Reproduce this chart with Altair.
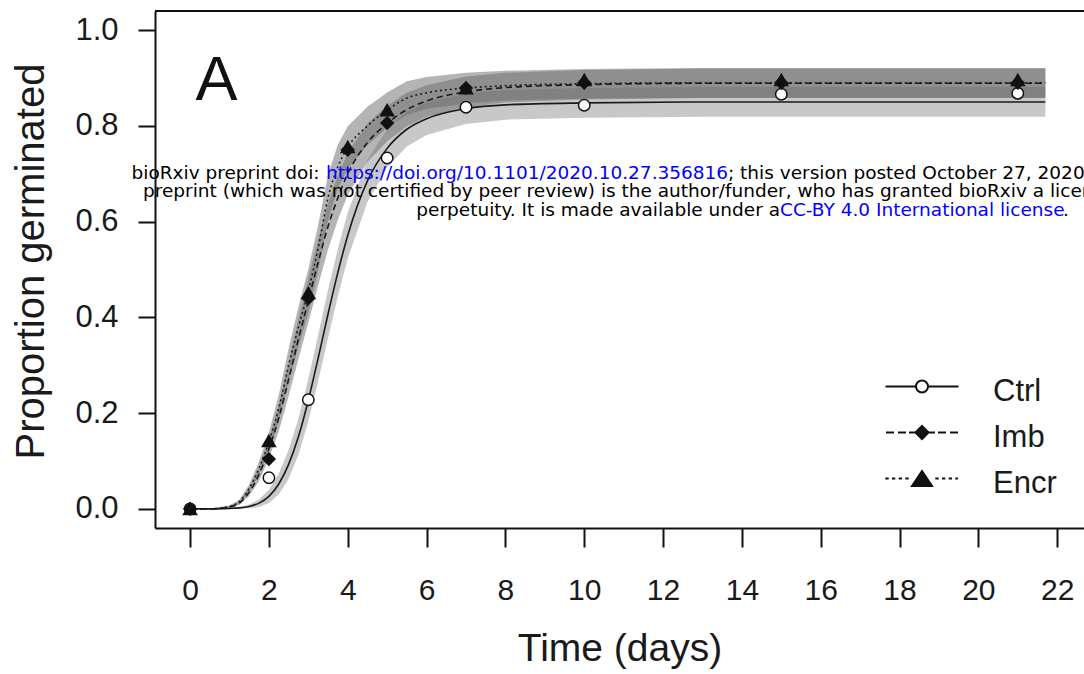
import altair as alt
import pandas as pd

# ---------------- data ----------------
series_names = ["Ctrl", "Imb", "Encr"]

# observed proportions
obs_days_ctrl = [0, 2, 3, 5, 7, 10, 15, 21]
obs_ctrl = [0.0, 0.065, 0.228, 0.733, 0.839, 0.843, 0.866, 0.868]
obs_days_trt = [0, 2, 3, 4, 5, 7, 10, 15, 21]
obs_imb = [0.0, 0.104, 0.44, 0.75, 0.806, 0.879, 0.89, 0.89, 0.89]
obs_encr = [0.0, 0.142, 0.451, 0.756, 0.833, 0.879, 0.896, 0.896, 0.896]

# fitted curves
curve_days = [0, 0.5, 1, 1.25, 1.5, 1.75, 2, 2.25, 2.5, 2.75, 3, 3.25, 3.5,
              3.75, 4, 4.5, 5, 5.5, 6, 7, 8, 10, 13, 17, 21.7]
fit_ctrl = [0, 0, 0.001, 0.002, 0.005, 0.012, 0.026, 0.052, 0.093, 0.151, 0.227,
            0.315, 0.407, 0.494, 0.571, 0.685, 0.753, 0.793, 0.815, 0.836, 0.844,
            0.848, 0.85, 0.85, 0.85]
fit_imb = [0, 0, 0.004, 0.012, 0.035, 0.072, 0.125, 0.19, 0.27, 0.355, 0.435,
           0.515, 0.59, 0.65, 0.70, 0.765, 0.805, 0.834, 0.852, 0.871, 0.88,
           0.886, 0.889, 0.889, 0.889]
fit_encr = [0, 0, 0.005, 0.015, 0.043, 0.085, 0.14, 0.21, 0.30, 0.38, 0.455,
            0.545, 0.65, 0.715, 0.755, 0.80, 0.833, 0.858, 0.869, 0.879, 0.884,
            0.888, 0.89, 0.89, 0.89]
# half-widths of the grey confidence bands
ci_ctrl = [0, 0, 0.001, 0.002, 0.004, 0.008, 0.014, 0.022, 0.03, 0.038, 0.044,
           0.048, 0.05, 0.05, 0.048, 0.044, 0.04, 0.036, 0.034, 0.032, 0.031,
           0.031, 0.031, 0.031, 0.031]
ci_imb = [0, 0, 0.002, 0.004, 0.008, 0.014, 0.02, 0.028, 0.035, 0.042, 0.046,
          0.048, 0.048, 0.046, 0.044, 0.04, 0.037, 0.035, 0.033, 0.032, 0.031,
          0.031, 0.031, 0.031, 0.031]
ci_encr = [0, 0, 0.002, 0.004, 0.008, 0.014, 0.02, 0.028, 0.035, 0.042, 0.046,
           0.048, 0.048, 0.046, 0.044, 0.04, 0.037, 0.035, 0.033, 0.032, 0.031,
           0.031, 0.031, 0.031, 0.031]

x_ticks = [0, 2, 4, 6, 8, 10, 12, 14, 16, 18, 20, 22]
y_ticks = [0.0, 0.2, 0.4, 0.6, 0.8, 1.0]

# ---------------- tables ----------------
fits = {"Ctrl": (fit_ctrl, ci_ctrl), "Imb": (fit_imb, ci_imb), "Encr": (fit_encr, ci_encr)}
rows = []
for s in series_names:
    f, c = fits[s]
    for d, v, h in zip(curve_days, f, c):
        rows.append({"series": s, "day": d, "fit": v, "lo": max(v - h, 0), "hi": v + h})
curves = pd.DataFrame(rows)

prow = []
for d, v in zip(obs_days_ctrl, obs_ctrl):
    prow.append({"series": "Ctrl", "day": d, "value": v})
for d, v in zip(obs_days_trt, obs_imb):
    prow.append({"series": "Imb", "day": d, "value": v})
for d, v in zip(obs_days_trt, obs_encr):
    prow.append({"series": "Encr", "day": d, "value": v})
points = pd.DataFrame(prow)

# ---------------- styling ----------------
F = "Liberation Sans"
W, H = 929, 517
TXT = "#1a1a1a"

xs = alt.Scale(domain=[-0.89, 22.68], nice=False, zero=False)
ys = alt.Scale(domain=[-0.04, 1.04], nice=False, zero=False)

x_axis = alt.Axis(values=x_ticks, title="Time (days)", grid=False,
                  labelFont=F, labelFontSize=30, labelColor=TXT, labelPadding=28,
                  labelFlush=False, labelOverlap=False,
                  tickSize=19, tickWidth=2, tickColor="#111",
                  domainColor="#111", domainWidth=2,
                  titleFont=F, titleFontSize=39, titleFontWeight="normal", titleColor=TXT,
                  titleBaseline="alphabetic", titleY=132)
y_axis = alt.Axis(values=y_ticks, format=".1f", title="Proportion germinated", grid=False,
                  labelFont=F, labelFontSize=31, labelColor=TXT, labelPadding=20,
                  labelFlush=False, labelOverlap=False,
                  tickSize=17, tickWidth=2, tickColor="#111",
                  domainColor="#111", domainWidth=2,
                  titleFont=F, titleFontSize=40, titleFontWeight="normal", titleColor=TXT,
                  titleBaseline="alphabetic", titleX=-112, titleY=250)

X = lambda f: alt.X(f, type="quantitative", scale=xs, axis=x_axis)
Y = lambda f: alt.Y(f, type="quantitative", scale=ys, axis=y_axis)

base = alt.Chart(curves)

band_ctrl = base.transform_filter(alt.datum.series == "Ctrl").mark_area(
    color="#9a9a9a", opacity=0.55).encode(x=X("day"), y=Y("lo"), y2="hi")
band_imb = base.transform_filter(alt.datum.series == "Imb").mark_area(
    color="#6a6a6a", opacity=0.5).encode(x=X("day"), y=Y("lo"), y2="hi")
band_encr = base.transform_filter(alt.datum.series == "Encr").mark_area(
    color="#6a6a6a", opacity=0.5).encode(x=X("day"), y=Y("lo"), y2="hi")

line_ctrl = base.transform_filter(alt.datum.series == "Ctrl").mark_line(
    color="#1a1a1a", strokeWidth=1.6, interpolate="monotone").encode(x=X("day"), y=Y("fit"))
line_imb = base.transform_filter(alt.datum.series == "Imb").mark_line(
    color="#1a1a1a", strokeWidth=1.6, strokeDash=[6, 4], interpolate="monotone").encode(
    x=X("day"), y=Y("fit"))
line_encr = base.transform_filter(alt.datum.series == "Encr").mark_line(
    color="#1a1a1a", strokeWidth=1.6, strokeDash=[2, 3], interpolate="monotone").encode(
    x=X("day"), y=Y("fit"))

pts = alt.Chart(points).mark_point(filled=True, stroke="#111", strokeWidth=1.5, opacity=1).encode(
    x=X("day"), y=Y("value"),
    shape=alt.Shape("series:N", scale=alt.Scale(domain=series_names,
                    range=["circle", "diamond", "triangle-up"]), legend=None),
    fill=alt.Fill("series:N", scale=alt.Scale(domain=series_names,
                  range=["white", "#111", "#111"]), legend=None),
    size=alt.Size("series:N", scale=alt.Scale(domain=series_names, range=[130, 170, 230]),
                  legend=None),
)

# legend symbols: line + marker, drawn as custom symbol paths (unit = 10 px)
leg_paths = [
    "M-3.65,-0.5H-0.6M0.6,-0.5H3.65M0.6,-0.5A0.6,0.6,0,1,1,-0.6,-0.5A0.6,0.6,0,1,1,0.6,-0.5Z",
    "M-3.6,-0.5H-2.8M-2.4,-0.5H-1.6M-1.3,-0.5H-0.6M0,-1.15L0.65,-0.5L0,0.15L-0.65,-0.5Z"
    "M0.6,-0.5H1.3M1.6,-0.5H2.4M2.8,-0.5H3.6",
    "M-3.67,-0.5H-3.33M-3,-0.5H-2.67M-2.33,-0.5H-2M-1.67,-0.5H-1.33M0,-1.25L1,0.25H-1Z"
    "M1.33,-0.5H1.67M2,-0.5H2.33M2.67,-0.5H3M3.33,-0.5H3.6",
]
leg_df = pd.DataFrame({"Legend": series_names})
leg_common = dict(title=None, orient="none", legendX=751.5, legendY=365,
                  symbolSize=400, symbolStrokeWidth=2, symbolStrokeColor="#111",
                  labelFont=F, labelFontSize=31, labelColor=TXT, labelOffset=55.5,
                  rowPadding=14, padding=0, labelLimit=0)
legend_layer = alt.Chart(leg_df).mark_point(filled=True, stroke="#111", strokeWidth=2,
                                            opacity=1).encode(
    x=alt.value(-3000), y=alt.value(-3000),
    shape=alt.Shape("Legend:N", scale=alt.Scale(domain=series_names, range=leg_paths),
                    legend=alt.Legend(**leg_common)),
    fill=alt.Fill("Legend:N", scale=alt.Scale(domain=series_names,
                  range=["white", "#111", "#111"]), legend=alt.Legend(**leg_common)),
    stroke=alt.Stroke("Legend:N", scale=alt.Scale(domain=series_names,
                      range=["#111", "#111", "#111"]), legend=alt.Legend(**leg_common)),
)

# panel letter
letter = alt.Chart(pd.DataFrame({"ax": [0.67], "ay": [0.854]})).mark_text(
    text="A", font=F, fontSize=63, color="#111", align="center", baseline="alphabetic"
).encode(x=X("ax"), y=Y("ay"))

# top frame line
top_rule = alt.Chart(pd.DataFrame({"k": [0]})).mark_rule(color="#111", strokeWidth=2).encode(
    x=alt.value(0), x2=alt.value(W), y=alt.value(0))

# bioRxiv watermark text
WF = "DejaVu Sans"
one = pd.DataFrame({"k": [0]})
def wm(text, x, y, color="black", align="left"):
    return alt.Chart(one).mark_text(text=text, font=WF, fontSize=18.5, color=color,
                                    align=align, baseline="alphabetic").encode(
        x=alt.value(x), y=alt.value(y))

BLUE = "#0000ff"
watermark = [
    wm("bioRxiv preprint doi: ", -23.5, 168),
    wm("https://doi.org/10.1101/2020.10.27.356816", 171, 168, BLUE),
    wm("; this version posted October 27, 2020. The copyright holder for this", 573, 168),
    wm("preprint (which was not certified by peer review) is the author/funder, who has granted bioRxiv a license to display the preprint in",
       -12, 186),
    wm("perpetuity. It is made available under a", 625, 205, align="right"),
    wm("CC-BY 4.0 International license", 625, 205, BLUE),
    wm(".", 908, 205),
]

chart = alt.layer(
    band_ctrl, band_imb, band_encr, line_ctrl, line_imb, line_encr, pts,
    legend_layer, letter, top_rule, *watermark
).resolve_scale(shape="independent", fill="independent", size="independent",
                stroke="independent").properties(
    width=W, height=H,
    autosize=alt.AutoSizeParams(type="none"),
    padding={"left": 155, "top": 11, "right": 0, "bottom": 146},
    background="white",
).configure_view(stroke=None)

chart.save("out.html", embed_options={"renderer": "svg", "actions": False})
